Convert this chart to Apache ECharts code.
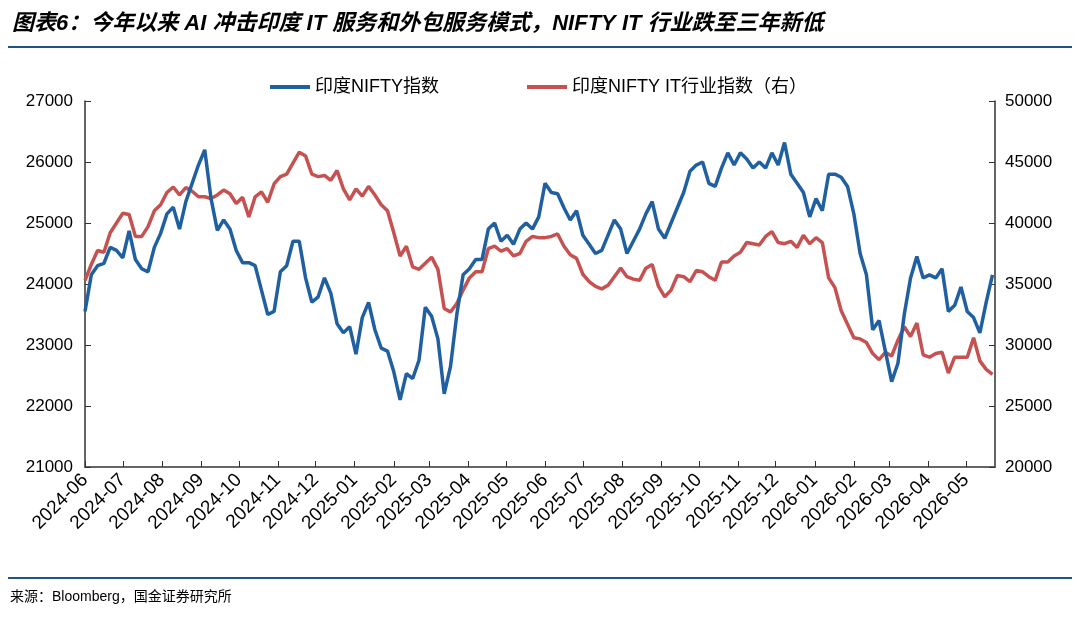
<!DOCTYPE html>
<html>
<head>
<meta charset="utf-8">
<script src="https://cdn.jsdelivr.net/npm/echarts@6/dist/echarts.min.js"></script>
<style>
  html, body { margin: 0; background: #fff; }
  #chart { width: 1080px; height: 620px; }
</style>
</head>
<body>
<div id="chart"></div>
<script>
  // samples every 5 days starting 2024-06-01
  const startDate = new Date(2024, 5, 1);
  const endDate = new Date(2026, 4, 24);
  const stepDays = 5;

  const niftyName = '印度NIFTY指数';
  const niftyItName = '印度NIFTY IT行业指数（右）';

  const niftyValues = [
    23550, 24150, 24300, 24340, 24600, 24550, 24430, 24870, 24400, 24250,
    24200, 24600, 24830, 25150, 25260, 24900, 25350, 25650, 25950, 26200,
    25400, 24880, 25050, 24900, 24550, 24350, 24350, 24300, 23900, 23500,
    23550, 24200, 24300, 24700, 24700, 24100, 23700, 23790, 24100, 23850,
    23350, 23200, 23300, 22850, 23450, 23700, 23250, 22950, 22900, 22560,
    22100, 22530, 22450, 22750, 23620, 23470, 23100, 22200, 22650, 23500,
    24150, 24250, 24400, 24400, 24900, 25000, 24700, 24800, 24650, 24900,
    25000, 24900, 25100, 25650, 25500, 25480, 25250, 25050, 25200, 24800,
    24650, 24500, 24550, 24800, 25050, 24900, 24500, 24700, 24900, 25150,
    25350, 24900, 24750, 25000, 25250, 25500, 25850, 25950, 26000, 25650,
    25600, 25900, 26150, 25950, 26150, 26050, 25900, 26000, 25900, 26150,
    25950, 26320, 25800, 25650, 25500, 25100, 25400, 25200, 25800, 25800,
    25750, 25600, 25150, 24500, 24150, 23250, 23400, 22900, 22400, 22700,
    23500, 24100, 24450, 24100, 24150, 24100, 24250, 23550, 23650, 23950,
    23550, 23450, 23200, 23700, 24150
  ];

  const niftyItValues = [
    35300, 36600, 37750, 37600, 39200, 40000, 40800, 40700, 38900, 38900,
    39700, 41000, 41500, 42500, 42950, 42300, 42900, 42600, 42150, 42150,
    42000, 42300, 42700, 42400, 41600, 42100, 40500, 42150, 42550, 41700,
    43200, 43800, 44000, 44900, 45800, 45500, 44000, 43800, 43900, 43500,
    44300, 42800, 41900, 42800, 42200, 43000, 42300, 41500, 41000, 39200,
    37300, 38100, 36400, 36200, 36700, 37200, 36200, 33000, 32700, 33400,
    34500, 35500, 36000, 36000, 37900, 38100, 37700, 37900, 37300, 37500,
    38500, 38900, 38800, 38800, 38900, 39100, 38100, 37400, 37100, 35800,
    35200, 34800, 34600, 34900, 35600, 36300, 35600, 35400, 35300, 36300,
    36600, 34800, 33950, 34500, 35700, 35600, 35200, 36100, 36000, 35600,
    35300, 36800, 36800, 37300, 37600, 38400, 38300, 38200, 38900, 39300,
    38400, 38300, 38500, 38000, 39000, 38300, 38800, 38400, 35500, 34700,
    32800, 31700, 30600, 30500, 30200, 29300, 28800, 29400, 29100, 30400,
    31500, 30700, 31800, 29200, 29000, 29300, 29400, 27700, 29000, 29000,
    29000, 30600, 28700, 28000, 27600
  ];

  const sampleDates = niftyValues.map((v, i) => {
    const d = new Date(startDate);
    d.setDate(d.getDate() + i * stepDays);
    return d;
  });

  const lineBlue = '#2160a0';
  const lineRed = '#c55250';
  const axisColor = '#333';
  const fontFamily = '"Liberation Sans", "Noto Sans CJK SC", sans-serif';

  const chart = echarts.init(document.getElementById('chart'));

  const option = {
    backgroundColor: '#fff',
    animation: false,
    textStyle: { fontFamily: fontFamily },
    graphic: [
      {
        type: 'text',
        left: 12,
        top: 13,
        style: {
          text: '图表6：今年以来 AI 冲击印度 IT 服务和外包服务模式，NIFTY IT 行业跌至三年新低',
          fontSize: 22,
          fontWeight: 'bold',
          fontStyle: 'italic',
          fill: '#000',
          fontFamily: fontFamily,
        },
      },
      {
        type: 'rect',
        shape: { x: 8, y: 46, width: 1064, height: 2 },
        style: { fill: '#1f5583' },
      },
      {
        type: 'rect',
        shape: { x: 8, y: 577, width: 1064, height: 2 },
        style: { fill: '#1f5583' },
      },
      {
        type: 'text',
        left: 10,
        top: 590,
        style: {
          text: '来源：Bloomberg，国金证券研究所',
          fontSize: 14,
          fill: '#000',
          fontFamily: fontFamily,
        },
      },
    ],
    legend: {
      top: 73,
      left: 265,
      icon: 'rect',
      itemWidth: 40,
      itemHeight: 4,
      itemGap: 88,
      textStyle: { fontSize: 18, color: '#000' },
      data: [niftyName, niftyItName],
    },
    grid: {
      left: 85,
      right: 85,
      top: 101,
      bottom: 153,
    },
    xAxis: {
      type: 'time',
      min: startDate.getTime(),
      max: endDate.getTime(),
      splitNumber: 24,
      minInterval: 28 * 86400000,
      maxInterval: 31 * 86400000,
      axisLine: { lineStyle: { color: axisColor, width: 1.5 } },
      axisTick: { inside: true, length: 6, lineStyle: { color: axisColor } },
      splitLine: { show: false },
      axisLabel: {
        rotate: 45,
        fontSize: 19,
        color: '#000',
        margin: 10,
        formatter: (val) => echarts.time.format(val, '{yyyy}-{MM}', false),
      },
    },
    yAxis: [
      {
        type: 'value',
        min: 21000,
        max: 27000,
        interval: 1000,
        axisLine: { show: true, lineStyle: { color: axisColor, width: 1.5 } },
        axisTick: { show: true, inside: true, length: 6, lineStyle: { color: axisColor } },
        splitLine: { show: false },
        axisLabel: { fontSize: 17, color: '#000', margin: 12, formatter: (v) => String(v) },
      },
      {
        type: 'value',
        min: 20000,
        max: 50000,
        interval: 5000,
        axisLine: { show: true, lineStyle: { color: axisColor, width: 1.5 } },
        axisTick: { show: true, inside: true, length: 6, lineStyle: { color: axisColor } },
        splitLine: { show: false },
        axisLabel: { fontSize: 17, color: '#000', margin: 10, formatter: (v) => String(v) },
      },
    ],
    series: [
      {
        name: niftyName,
        type: 'line',
        yAxisIndex: 0,
        showSymbol: false,
        color: lineBlue,
        lineStyle: { width: 3.5, color: lineBlue },
        data: sampleDates.map((d, i) => [d.getTime(), niftyValues[i]]),
        z: 3,
      },
      {
        name: niftyItName,
        type: 'line',
        yAxisIndex: 1,
        showSymbol: false,
        color: lineRed,
        lineStyle: { width: 3.5, color: lineRed },
        data: sampleDates.map((d, i) => [d.getTime(), niftyItValues[i]]),
        z: 2,
      },
    ],
  };

  chart.setOption(option);
</script>
</body>
</html>
